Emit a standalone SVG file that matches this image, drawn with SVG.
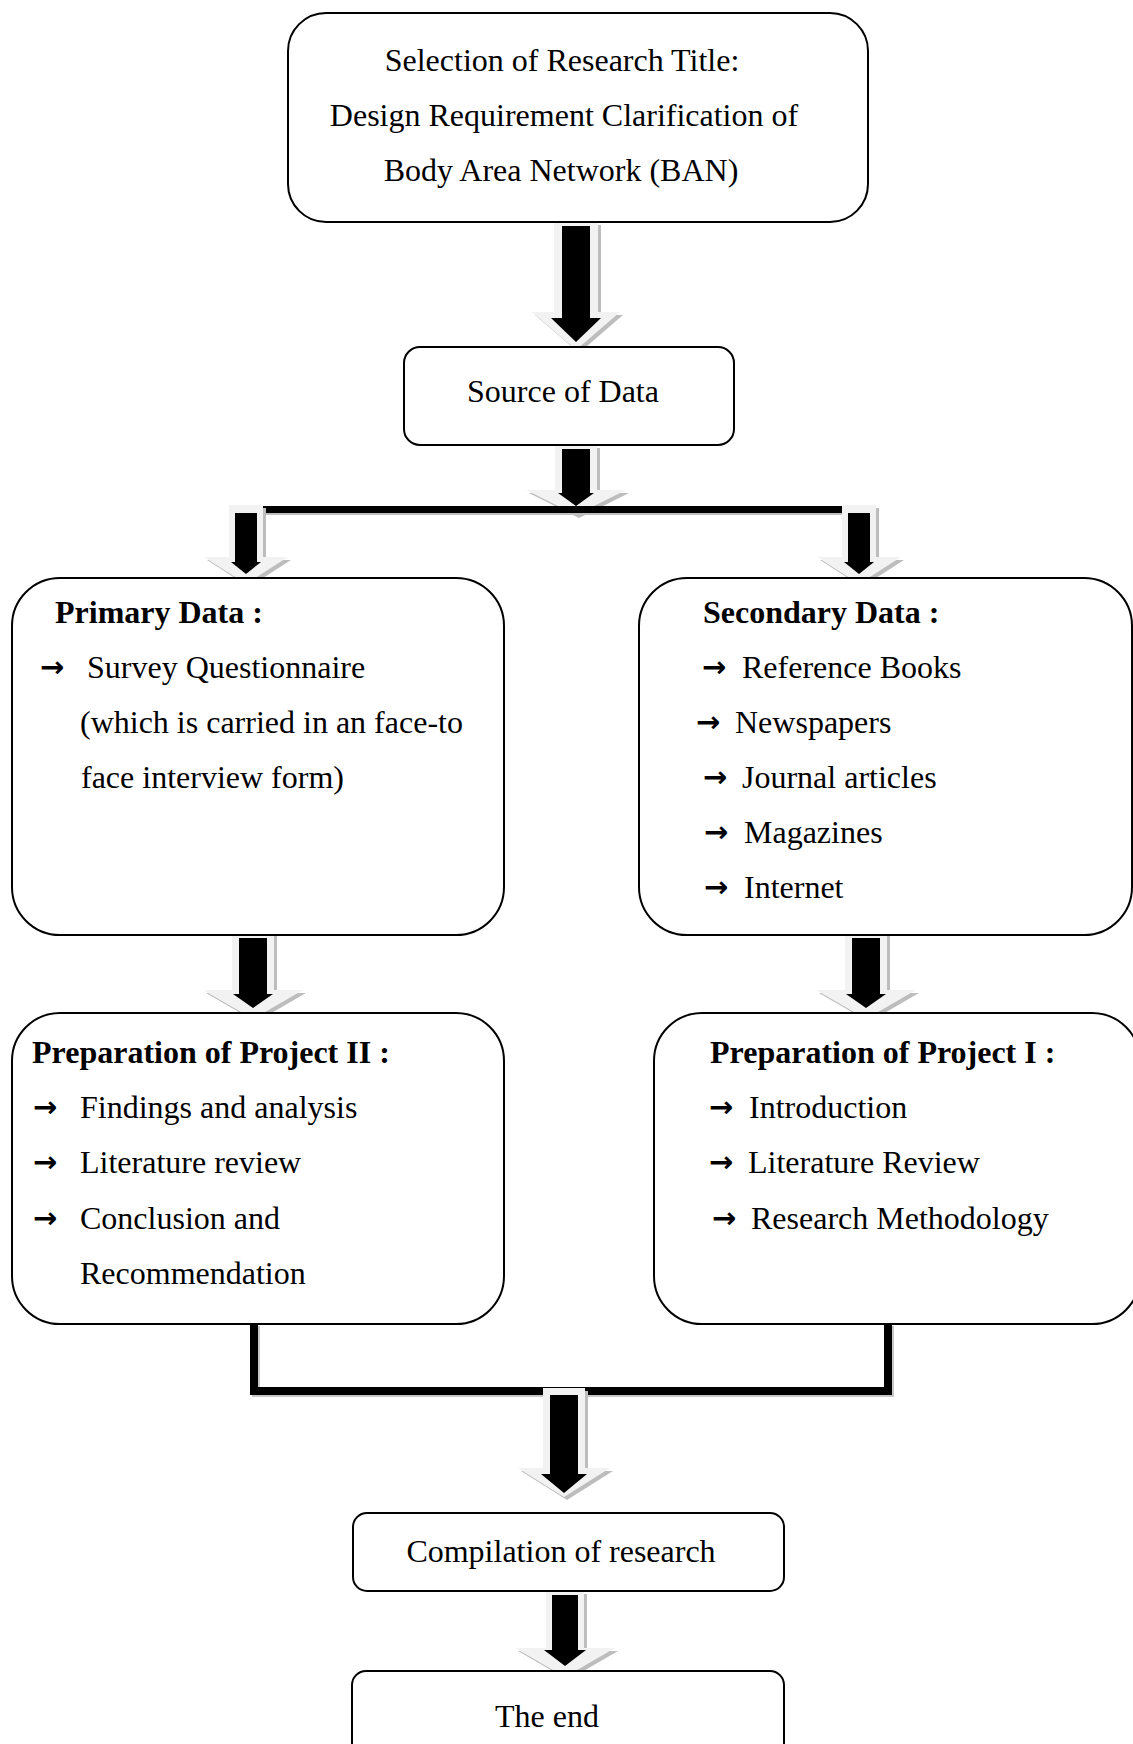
<svg xmlns="http://www.w3.org/2000/svg" width="1133" height="1744" viewBox="0 0 1133 1744">
<style>
.box{fill:#fff;stroke:#000;stroke-width:2}
.t{font-family:"Liberation Serif","Times New Roman",serif;font-size:32px;fill:#000}
.b{font-weight:bold}
.ar{font-family:"DejaVu Sans",sans-serif;font-size:29px;font-weight:bold;fill:#000}
.lt{fill:#f2f2f2}
.sh{fill:#bdbdbd}
.bk{fill:#000}
.ln{fill:none;stroke:#000;stroke-width:8;stroke-linejoin:miter}
</style>
<rect width="1133" height="1744" fill="#fff"/>

<g id="connectors">
  <g id="arrowA">
    <polygon class="sh" transform="translate(3,3)" points="554,222 598,222 598,312 620,312 576,350 532,312 554,312"/>
    <polygon class="lt" points="554,222 598,222 598,312 620,312 576,350 532,312 554,312"/>
    <polygon class="bk" points="562,226 590,226 590,318 601,318 576,342 551,318 562,318"/>
  </g>
  <g id="arrowB">
    <polygon class="sh" transform="translate(3,3)" points="555,445 597,445 597,490 626,490 576,515 526,490 555,490"/>
    <polygon class="lt" points="555,445 597,445 597,490 626,490 576,515 526,490 555,490"/>
    <polygon class="bk" points="562,449 590,449 590,493 594,493 576,506 558,493 562,493"/>
  </g>
  <rect x="246" y="508" width="613" height="7" fill="#bdbdbd"/>
  <rect x="246" y="506" width="613" height="7" fill="#000"/>
  <g id="arrowC">
    <polygon class="sh" transform="translate(3,3)" points="229,505 263,505 263,557 288,557 246,584 204,557 229,557"/>
    <polygon class="lt" points="229,505 263,505 263,557 288,557 246,584 204,557 229,557"/>
    <polygon class="bk" points="235,513 257,513 257,562 261,562 246,574 231,562 235,562"/>
  </g>
  <g id="arrowD">
    <polygon class="sh" transform="translate(3,3)" points="842,505 876,505 876,557 901,557 859,584 817,557 842,557"/>
    <polygon class="lt" points="842,505 876,505 876,557 901,557 859,584 817,557 842,557"/>
    <polygon class="bk" points="848,513 870,513 870,562 874,562 859,574 844,562 848,562"/>
  </g>
  <g id="arrowE">
    <polygon class="sh" transform="translate(3,3)" points="232,930 274,930 274,990 303,990 253,1019 203,990 232,990"/>
    <polygon class="lt" points="232,930 274,930 274,990 303,990 253,1019 203,990 232,990"/>
    <polygon class="bk" points="239,938 267,938 267,994 273,994 253,1008 233,994 239,994"/>
  </g>
  <g id="arrowF">
    <polygon class="sh" transform="translate(3,3)" points="845,930 887,930 887,990 916,990 866,1019 816,990 845,990"/>
    <polygon class="lt" points="845,930 887,930 887,990 916,990 866,1019 816,990 845,990"/>
    <polygon class="bk" points="852,938 880,938 880,994 886,994 866,1008 846,994 852,994"/>
  </g>
  <path d="M256,1326 V1393 H890 V1326" fill="none" stroke="#c8c8c8" stroke-width="8"/>
  <path class="ln" d="M254,1324 V1391 H888 V1324"/>
  <g id="arrowG">
    <polygon class="sh" transform="translate(3,3)" points="543,1388 585,1388 585,1468 610,1468 564,1497 518,1468 543,1468"/>
    <polygon class="lt" points="543,1388 585,1388 585,1468 610,1468 564,1497 518,1468 543,1468"/>
    <polygon class="bk" points="550,1395 578,1395 578,1474 587,1474 564,1493 541,1474 550,1474"/>
  </g>
  <g id="arrowH">
    <polygon class="sh" transform="translate(3,3)" points="546,1591 584,1591 584,1648 615,1648 565,1677 515,1648 546,1648"/>
    <polygon class="lt" points="546,1591 584,1591 584,1648 615,1648 565,1677 515,1648 546,1648"/>
    <polygon class="bk" points="552,1595 578,1595 578,1650 586,1650 565,1666 544,1650 552,1650"/>
  </g>
</g>

<g id="node-title">
  <rect class="box" x="288" y="13" width="580" height="209" rx="38"/>
  <text class="t" x="562" y="71" text-anchor="middle">Selection of Research Title:</text>
  <text class="t" x="564" y="126" text-anchor="middle">Design Requirement Clarification of</text>
  <text class="t" x="561" y="181" text-anchor="middle">Body Area Network (BAN)</text>
</g>

<g id="node-source">
  <rect class="box" x="404" y="347" width="330" height="98" rx="16"/>
  <text class="t" x="563" y="402" text-anchor="middle">Source of Data</text>
</g>

<g id="node-primary">
  <rect class="box" x="12" y="578" width="492" height="357" rx="48"/>
  <text class="t b" x="55" y="623">Primary Data :</text>
  <text class="ar" x="40" y="677">→</text>
  <text class="t" x="87" y="678">Survey Questionnaire</text>
  <text class="t" x="80" y="733">(which is carried in an face-to</text>
  <text class="t" x="81" y="788">face interview form)</text>
</g>

<g id="node-secondary">
  <rect class="box" x="639" y="578" width="493" height="357" rx="48"/>
  <text class="t b" x="703" y="623">Secondary Data :</text>
  <text class="ar" x="702" y="677">→</text>
  <text class="t" x="742" y="678">Reference Books</text>
  <text class="ar" x="696" y="732">→</text>
  <text class="t" x="735" y="733">Newspapers</text>
  <text class="ar" x="703" y="787">→</text>
  <text class="t" x="742" y="788">Journal articles</text>
  <text class="ar" x="704" y="842">→</text>
  <text class="t" x="744" y="843">Magazines</text>
  <text class="ar" x="704" y="897">→</text>
  <text class="t" x="744" y="898">Internet</text>
</g>

<g id="node-project2">
  <rect class="box" x="12" y="1013" width="492" height="311" rx="48"/>
  <text class="t b" x="32" y="1063">Preparation of Project II :</text>
  <text class="ar" x="33" y="1117">→</text>
  <text class="t" x="80" y="1118">Findings and analysis</text>
  <text class="ar" x="33" y="1172">→</text>
  <text class="t" x="80" y="1173">Literature review</text>
  <text class="ar" x="33" y="1228">→</text>
  <text class="t" x="80" y="1229">Conclusion and</text>
  <text class="t" x="80" y="1284">Recommendation</text>
</g>

<g id="node-project1">
  <rect class="box" x="654" y="1013" width="486" height="311" rx="48"/>
  <text class="t b" x="710" y="1063">Preparation of Project I :</text>
  <text class="ar" x="709" y="1117">→</text>
  <text class="t" x="749" y="1118">Introduction</text>
  <text class="ar" x="709" y="1172">→</text>
  <text class="t" x="748" y="1173">Literature Review</text>
  <text class="ar" x="712" y="1228">→</text>
  <text class="t" x="751" y="1229">Research Methodology</text>
</g>

<g id="node-compilation">
  <rect class="box" x="353" y="1513" width="431" height="78" rx="14"/>
  <text class="t" x="561" y="1562" text-anchor="middle">Compilation of research</text>
</g>

<g id="node-end">
  <rect class="box" x="352" y="1671" width="432" height="100" rx="14"/>
  <text class="t" x="547" y="1727" text-anchor="middle">The end</text>
</g>
</svg>
